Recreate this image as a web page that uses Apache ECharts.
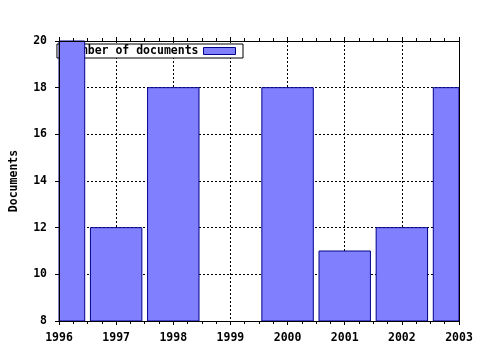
<!DOCTYPE html>
<html><head><meta charset="utf-8">
<script src="https://cdn.jsdelivr.net/npm/echarts@6/dist/echarts.min.js"></script>
<style>html,body{margin:0;padding:0;background:#fff}#c{width:480px;height:350px}</style>
</head><body><div id="c"></div>
<script>
const years = [1996, 1997, 1998, 1999, 2000, 2001, 2002, 2003];
const documents = [20, 12, 18, null, 18, 11, 12, 18];
const yearLabels = ['1996', '1997', '1998', '1999', '2000', '2001', '2002', '2003'];
const yTickLabels = ['8', '10', '12', '14', '16', '18', '20'];
const seriesName = 'Number of documents';
const yTitle = 'Documents';

const FONT = 'DejaVu Sans Mono';
const fs = 11.5;
const xMin = years[0], xMax = years[years.length - 1];
const yMin = 8, yMax = 20;
const BAR_FRAC = 0.9;
const FILL = '#8080ff', EDGE = '#00008b';

const chart = echarts.init(document.getElementById('c'), null, {renderer: 'canvas'});
const xFmt = v => { const i = years.indexOf(Math.round(v)); return i >= 0 ? yearLabels[i] : ''; };
const yFmt = v => { const i = Math.round((v - yMin) / 2); return yTickLabels[i] || ''; };

function renderBar(params, api) {
  const x = api.value(0), v = api.value(1);
  if (v == null || isNaN(v)) return null;
  const top = api.coord([x, v]);
  const bot = api.coord([x, yMin]);
  const w = api.size([1, 0])[0] * BAR_FRAC;
  const cs = params.coordSys;
  const r = echarts.graphic.clipRectByRect(
    {x: top[0] - w / 2, y: top[1], width: w, height: bot[1] - top[1]},
    {x: cs.x, y: cs.y, width: cs.width, height: cs.height});
  if (!r) return null;
  return {type: 'rect', shape: r, style: {fill: FILL, stroke: EDGE, lineWidth: 1}};
}

chart.setOption({
  animation: false,
  backgroundColor: '#fff',
  grid: {left: 57, right: 21, top: 41, bottom: 29, containLabel: false},
  legend: {
    data: [seriesName], right: 237, top: 44, z: 1,
    icon: 'rect', itemWidth: 32, itemHeight: 7, align: 'right',
    padding: [1, 7, 1, 10], backgroundColor: '#fff', borderColor: '#000', borderWidth: 1, borderRadius: 0,
    itemStyle: {color: FILL, borderColor: EDGE, borderWidth: 1},
    textStyle: {fontFamily: FONT, fontWeight: 'bold', fontSize: fs, color: '#000', lineHeight: 11}
  },
  xAxis: [
    {type: 'value', min: xMin, max: xMax, interval: 1, z: 0,
      axisLine: {show: false}, axisTick: {show: false}, axisLabel: {show: false},
      splitLine: {show: true, lineStyle: {color: '#000', width: 1, type: [2, 2]}}},
    {type: 'value', position: 'bottom', min: xMin, max: xMax, interval: 1, z: 5,
      axisLine: {show: true, onZero: false, lineStyle: {color: '#000', width: 1}},
      axisTick: {show: true, inside: false, length: 4, lineStyle: {color: '#000'}},
      minorTick: {show: true, splitNumber: 4, length: 3, lineStyle: {color: '#000'}},
      axisLabel: {show: true, margin: 11, formatter: xFmt, color: '#000', fontFamily: FONT, fontWeight: 'bold', fontSize: fs},
      splitLine: {show: false}},
    {type: 'value', position: 'top', min: xMin, max: xMax, interval: 1, z: 5,
      axisLine: {show: true, onZero: false, lineStyle: {color: '#000', width: 1}},
      axisTick: {show: true, inside: false, length: 4, lineStyle: {color: '#000'}},
      minorTick: {show: true, splitNumber: 4, length: 3, lineStyle: {color: '#000'}},
      axisLabel: {show: false}, splitLine: {show: false}}
  ],
  yAxis: [
    {type: 'value', min: yMin, max: yMax, interval: 2, z: 0,
      axisLine: {show: false}, axisTick: {show: false}, axisLabel: {show: false},
      splitLine: {show: true, lineStyle: {color: '#000', width: 1, type: [2, 2]}}},
    {type: 'value', position: 'left', min: yMin, max: yMax, interval: 2, z: 5,
      name: yTitle, nameLocation: 'middle', nameGap: 39, nameRotate: 90,
      nameTextStyle: {fontFamily: FONT, fontWeight: 'bold', fontSize: fs, color: '#000'},
      axisLine: {show: true, onZero: false, lineStyle: {color: '#000', width: 1}},
      axisTick: {show: true, inside: false, length: 4, lineStyle: {color: '#000'}},
      axisLabel: {show: true, margin: 12, formatter: yFmt, color: '#000', fontFamily: FONT, fontWeight: 'bold', fontSize: fs},
      splitLine: {show: false}},
    {type: 'value', position: 'right', min: yMin, max: yMax, interval: 2, z: 5,
      axisLine: {show: true, onZero: false, lineStyle: {color: '#000', width: 1}},
      axisTick: {show: false}, axisLabel: {show: false}, splitLine: {show: false}}
  ],
  series: [{
    name: seriesName, type: 'custom', xAxisIndex: 0, yAxisIndex: 0, z: 2,
    renderItem: renderBar,
    itemStyle: {color: FILL, borderColor: EDGE, borderWidth: 1},
    encode: {x: 0, y: 1},
    data: years.map((y, i) => [y, documents[i] == null ? '-' : documents[i]])
  }]
});
</script></body></html>
